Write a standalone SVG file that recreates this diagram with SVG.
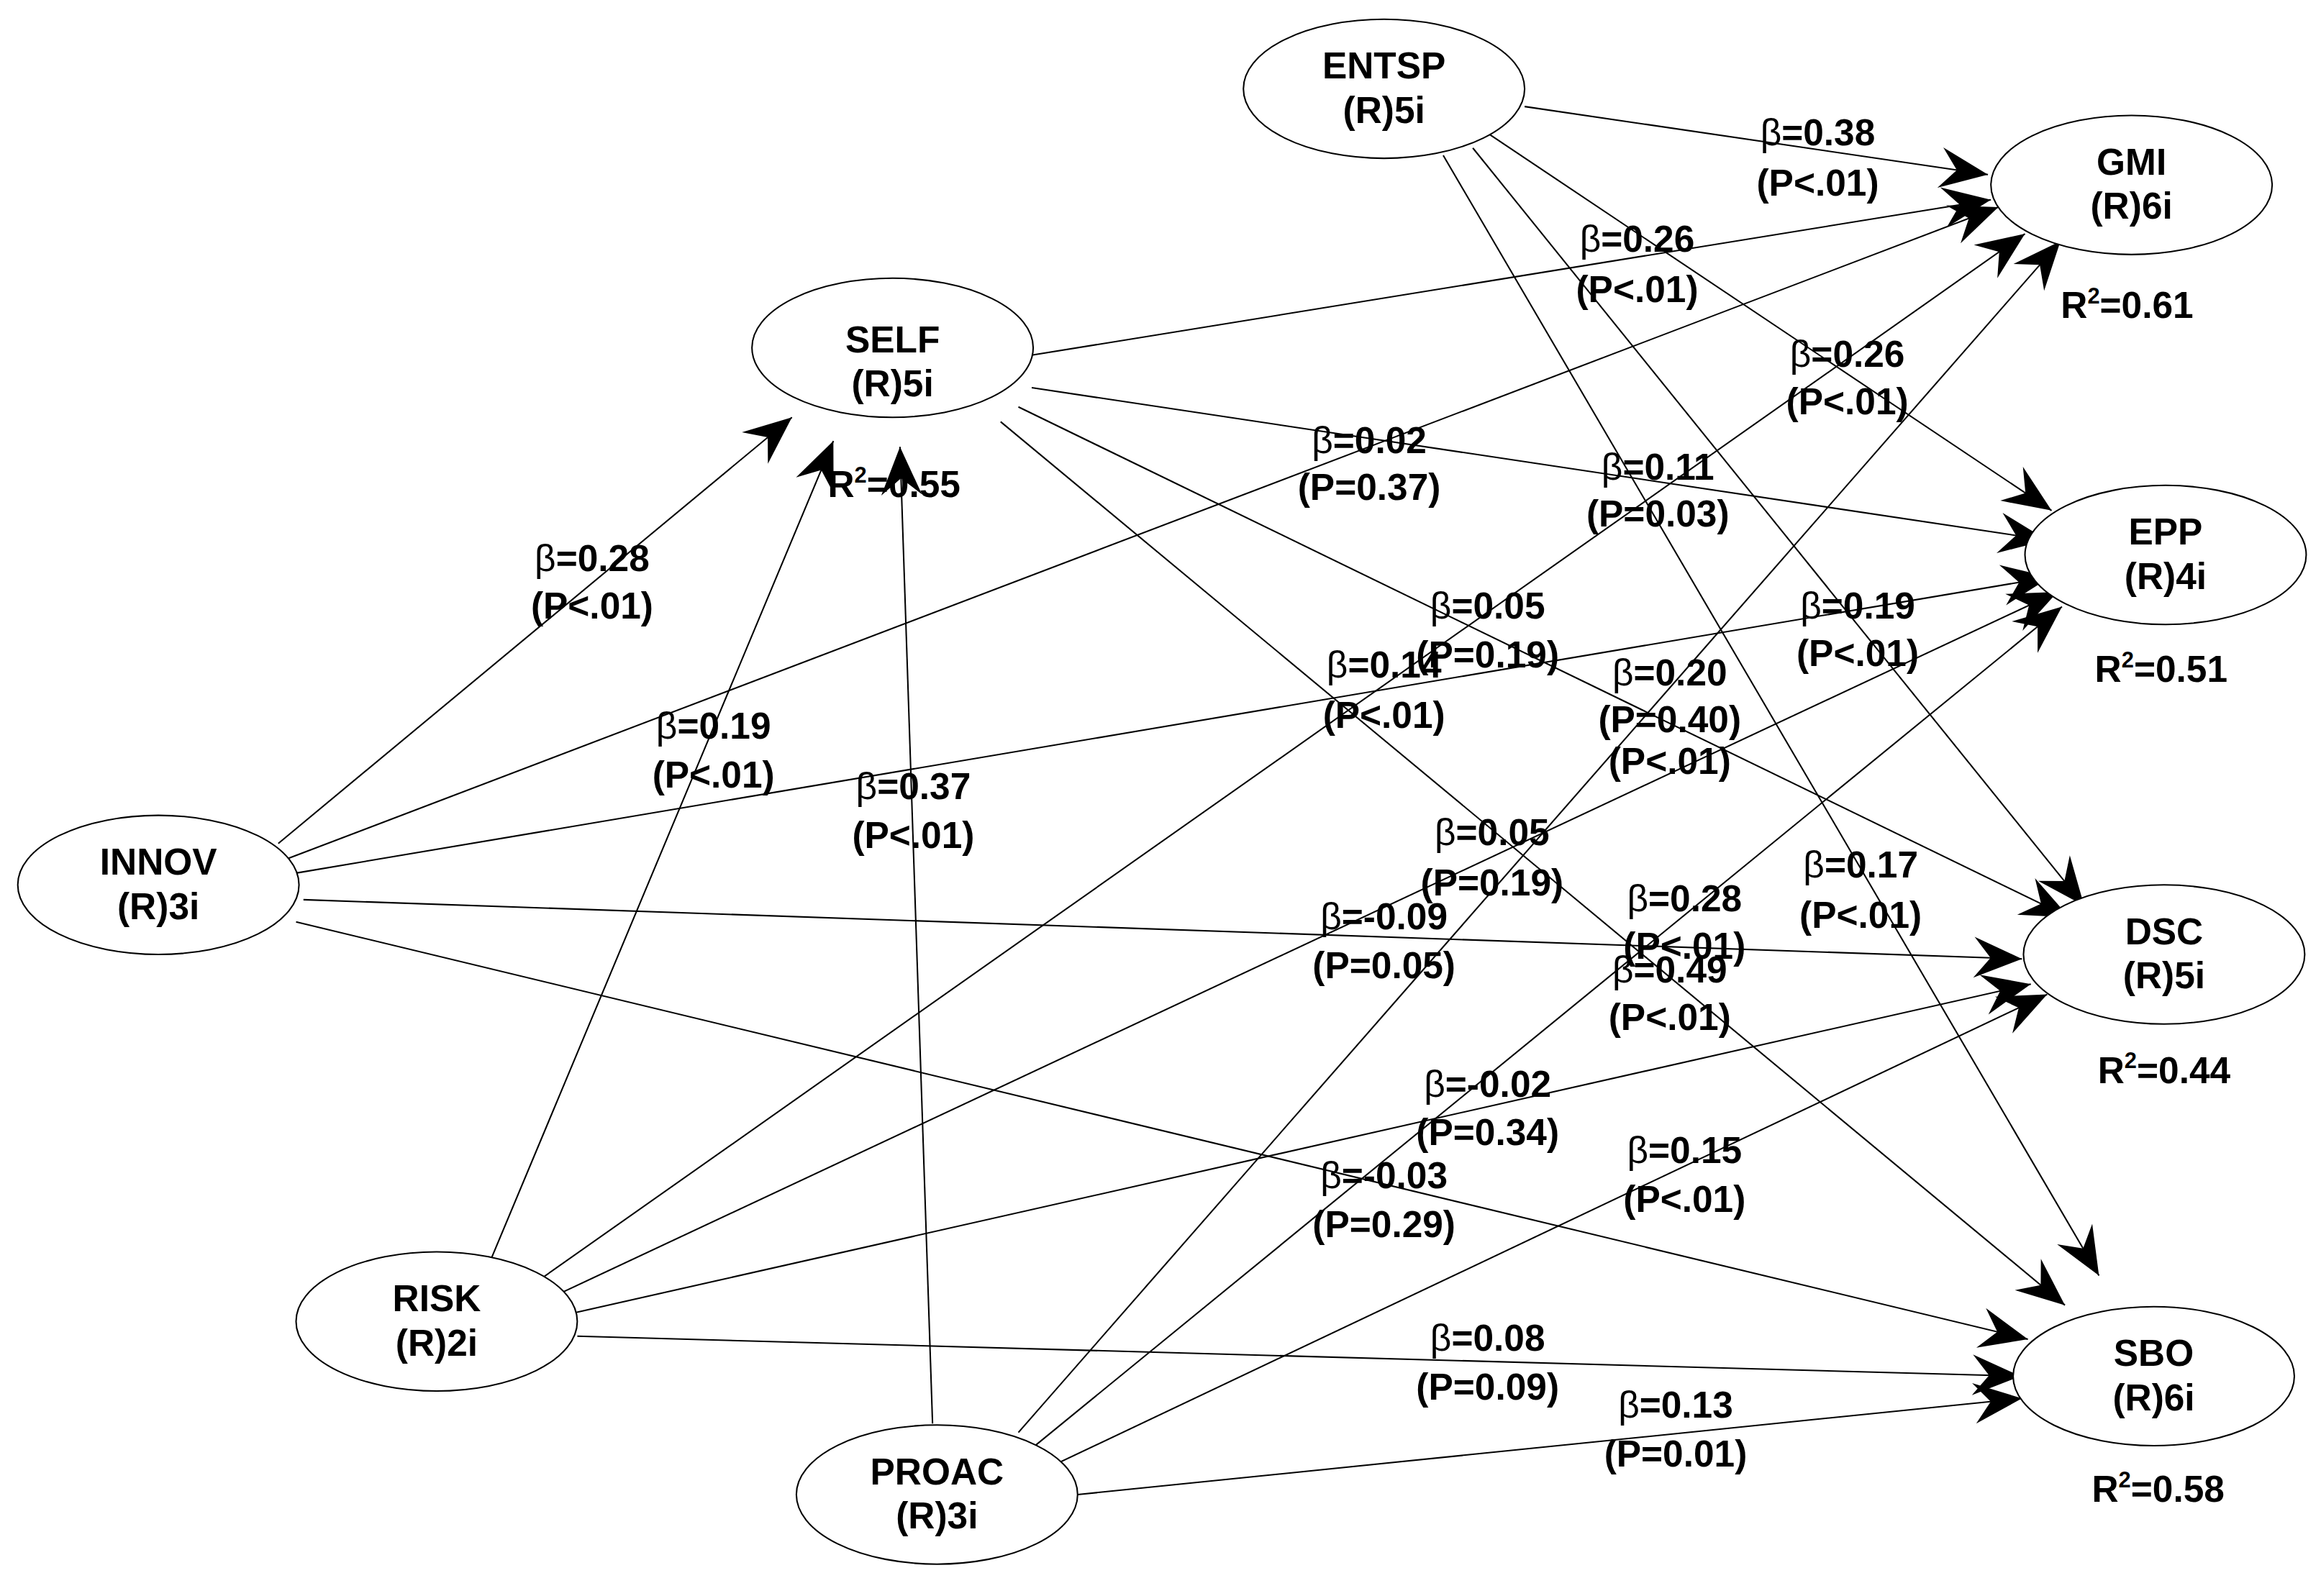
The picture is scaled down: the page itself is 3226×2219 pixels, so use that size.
<svg xmlns="http://www.w3.org/2000/svg" width="3226" height="2219" viewBox="0 0 3226 2219">
<style>
.n ellipse{fill:#fff;stroke:#000;stroke-width:1}
text{font-family:"Liberation Sans",Arial,sans-serif;font-weight:bold;font-size:25px;text-anchor:middle;fill:#000}
.e line{stroke:#000;stroke-width:1;marker-end:url(#a)}
.b{font-weight:normal}
</style>
<defs><marker id="a" markerUnits="userSpaceOnUse" markerWidth="40" markerHeight="40" viewBox="-30 -15 32 30" refX="0" refY="0" orient="auto"><path d="M0,0 L-26,-11 L-17,0 L-26,11 Z" fill="#000"/></marker></defs>
<rect width="3226" height="2219" fill="#fff"/>
<g transform="scale(2.0574)">
<g class="e" id="edges">
<line x1="1030" y1="72" x2="1343" y2="118"/>
<line x1="1005" y1="90" x2="1386" y2="345"/>
<line x1="995" y1="100" x2="1408" y2="612"/>
<line x1="975" y1="105" x2="1418" y2="862"/>
<line x1="697" y1="240" x2="1345" y2="135"/>
<line x1="697" y1="262" x2="1383" y2="365"/>
<line x1="688" y1="275" x2="1398" y2="620"/>
<line x1="676" y1="285" x2="1395" y2="882"/>
<line x1="188" y1="570" x2="535" y2="282"/>
<line x1="195" y1="580" x2="1350" y2="140"/>
<line x1="200" y1="590" x2="1385" y2="390"/>
<line x1="205" y1="608" x2="1366" y2="648"/>
<line x1="200" y1="623" x2="1370" y2="905"/>
<line x1="330" y1="855" x2="563" y2="298"/>
<line x1="360" y1="868" x2="1368" y2="158"/>
<line x1="372" y1="877" x2="1390" y2="400"/>
<line x1="380" y1="889" x2="1372" y2="665"/>
<line x1="390" y1="903" x2="1365" y2="930"/>
<line x1="630" y1="962" x2="608" y2="302"/>
<line x1="688" y1="968" x2="1392" y2="163"/>
<line x1="698" y1="978" x2="1393" y2="410"/>
<line x1="712" y1="990" x2="1383" y2="672"/>
<line x1="728" y1="1010" x2="1366" y2="945"/>
</g>
<g class="n" id="ENTSP"><ellipse cx="935" cy="60" rx="95" ry="47"/><text x="935" y="53">ENTSP</text><text x="935" y="83">(R)5i</text></g>
<g class="n" id="GMI"><ellipse cx="1440" cy="125" rx="95" ry="47"/><text x="1440" y="118">GMI</text><text x="1440" y="148">(R)6i</text><text x="1437" y="215">R<tspan dy="-10" font-size="15">2</tspan><tspan dy="10">=0.61</tspan></text></g>
<g class="n" id="SELF"><ellipse cx="603" cy="235" rx="95" ry="47"/><text x="603" y="238">SELF</text><text x="603" y="268">(R)5i</text></g>
<g class="n" id="EPP"><ellipse cx="1463" cy="375" rx="95" ry="47"/><text x="1463" y="368">EPP</text><text x="1463" y="398">(R)4i</text><text x="1460" y="461">R<tspan dy="-10" font-size="15">2</tspan><tspan dy="10">=0.51</tspan></text></g>
<g class="n" id="INNOV"><ellipse cx="107" cy="598" rx="95" ry="47"/><text x="107" y="591">INNOV</text><text x="107" y="621">(R)3i</text></g>
<g class="n" id="DSC"><ellipse cx="1462" cy="645" rx="95" ry="47"/><text x="1462" y="638">DSC</text><text x="1462" y="668">(R)5i</text><text x="1462" y="732">R<tspan dy="-10" font-size="15">2</tspan><tspan dy="10">=0.44</tspan></text></g>
<g class="n" id="RISK"><ellipse cx="295" cy="893" rx="95" ry="47"/><text x="295" y="886">RISK</text><text x="295" y="916">(R)2i</text></g>
<g class="n" id="SBO"><ellipse cx="1455" cy="930" rx="95" ry="47"/><text x="1455" y="923">SBO</text><text x="1455" y="953">(R)6i</text><text x="1458" y="1015">R<tspan dy="-10" font-size="15">2</tspan><tspan dy="10">=0.58</tspan></text></g>
<g class="n" id="PROAC"><ellipse cx="633" cy="1010" rx="95" ry="47"/><text x="633" y="1003">PROAC</text><text x="633" y="1033">(R)3i</text></g>
<g id="labels">
<text x="604" y="336">R<tspan dy="-10" font-size="15">2</tspan><tspan dy="10">=0.55</tspan></text>
<text x="1228" y="98"><tspan class="b">β</tspan>=0.38</text><text x="1228" y="132">(P&lt;.01)</text>
<text x="1106" y="170"><tspan class="b">β</tspan>=0.26</text><text x="1106" y="204">(P&lt;.01)</text>
<text x="1248" y="248"><tspan class="b">β</tspan>=0.26</text><text x="1248" y="280">(P&lt;.01)</text>
<text x="925" y="306"><tspan class="b">β</tspan>=0.02</text><text x="925" y="338">(P=0.37)</text>
<text x="1120" y="324"><tspan class="b">β</tspan>=0.11</text><text x="1120" y="356">(P=0.03)</text>
<text x="400" y="386"><tspan class="b">β</tspan>=0.28</text><text x="400" y="418">(P&lt;.01)</text>
<text x="1005" y="418"><tspan class="b">β</tspan>=0.05</text><text x="1005" y="451">(P=0.19)</text>
<text x="1255" y="418"><tspan class="b">β</tspan>=0.19</text><text x="1255" y="450">(P&lt;.01)</text>
<text x="935" y="458"><tspan class="b">β</tspan>=0.14</text><text x="935" y="492">(P&lt;.01)</text>
<text x="1128" y="463"><tspan class="b">β</tspan>=0.20</text><text x="1128" y="495">(P=0.40)</text><text x="1128" y="523">(P&lt;.01)</text>
<text x="482" y="499"><tspan class="b">β</tspan>=0.19</text><text x="482" y="532">(P&lt;.01)</text>
<text x="617" y="540"><tspan class="b">β</tspan>=0.37</text><text x="617" y="573">(P&lt;.01)</text>
<text x="1008" y="571"><tspan class="b">β</tspan>=0.05</text><text x="1008" y="605">(P=0.19)</text>
<text x="1257" y="593"><tspan class="b">β</tspan>=0.17</text><text x="1257" y="627">(P&lt;.01)</text>
<text x="1138" y="616"><tspan class="b">β</tspan>=0.28</text><text x="1138" y="648">(P&lt;.01)</text>
<text x="935" y="628"><tspan class="b">β</tspan>=-0.09</text><text x="935" y="661">(P=0.05)</text>
<text x="1128" y="664"><tspan class="b">β</tspan>=0.49</text><text x="1128" y="696">(P&lt;.01)</text>
<text x="1005" y="741"><tspan class="b">β</tspan>=-0.02</text><text x="1005" y="774">(P=0.34)</text>
<text x="1138" y="786"><tspan class="b">β</tspan>=0.15</text><text x="1138" y="819">(P&lt;.01)</text>
<text x="935" y="803"><tspan class="b">β</tspan>=-0.03</text><text x="935" y="836">(P=0.29)</text>
<text x="1005" y="913"><tspan class="b">β</tspan>=0.08</text><text x="1005" y="946">(P=0.09)</text>
<text x="1132" y="958"><tspan class="b">β</tspan>=0.13</text><text x="1132" y="991">(P=0.01)</text>
</g>
</g>
</svg>
